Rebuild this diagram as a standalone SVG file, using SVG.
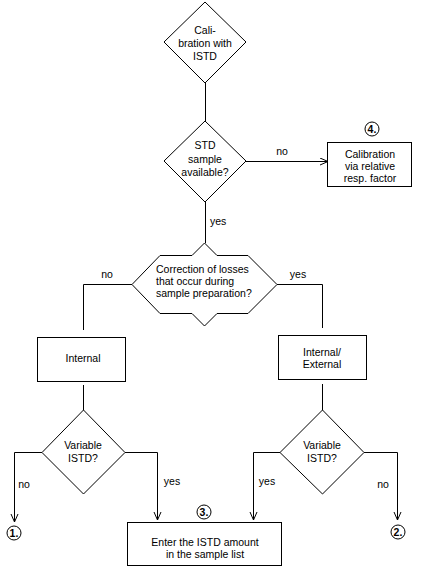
<svg xmlns="http://www.w3.org/2000/svg" width="422" height="570" viewBox="0 0 422 570">
<defs>
<marker id="arr" markerWidth="10" markerHeight="10" refX="8" refY="4" orient="auto" markerUnits="userSpaceOnUse">
<path d="M0,0.5 L8,4 L0,7.5" fill="none" stroke="#000" stroke-width="1"/>
</marker>
<style>
.s{fill:#fff;stroke:#000;stroke-width:1}
.c{fill:none;stroke:#000;stroke-width:1}
text{font-family:"Liberation Sans",Arial,sans-serif;font-size:10.5px;fill:#000}
.m{text-anchor:middle}
.n{font-weight:bold;font-size:10.5px;text-anchor:middle}
</style>
</defs>
<rect width="422" height="570" fill="#fff"/>
<g id="connectors">
<path class="c" d="M205.5,83 V121"/>
<path class="c" d="M246,161.5 H328" marker-end="url(#arr)"/>
<path class="c" d="M205.5,202 V243"/>
<path class="c" d="M132,284.5 H83.5 V330"/>
<path class="c" d="M277,284.5 H322.5 V328"/>
<path class="c" d="M83.5,385 V410"/>
<path class="c" d="M322.5,384 V410"/>
<path class="c" d="M42,452.5 H14.5 V522" marker-end="url(#arr)"/>
<path class="c" d="M125,452.5 H157.5 V520" marker-end="url(#arr)"/>
<path class="c" d="M280,452.5 H253.5 V520" marker-end="url(#arr)"/>
<path class="c" d="M364,452.5 H397.5 V520" marker-end="url(#arr)"/>
<text x="282" y="155" class="m">no</text>
<text x="210" y="225">yes</text>
<text x="107" y="278" class="m">no</text>
<text x="298" y="278" class="m">yes</text>
<text x="24" y="488" class="m">no</text>
<text x="172" y="485" class="m">yes</text>
<text x="267" y="485" class="m">yes</text>
<text x="383" y="488" class="m">no</text>
</g>
<g id="start">
<polygon class="s" points="205,2 246,42 205,83 164,42"/>
<text x="205" y="34" class="m">Cali-</text>
<text x="205" y="47" class="m">bration with</text>
<text x="205" y="60" class="m">ISTD</text>
</g>
<g id="std">
<polygon class="s" points="205,121 246,161 205,202 164,161"/>
<text x="205" y="149" class="m">STD</text>
<text x="205" y="163" class="m">sample</text>
<text x="205" y="176" class="m">available?</text>
</g>
<g id="relative">
<rect class="s" x="327.5" y="142.5" width="84" height="44"/>
<text x="370" y="158" class="m">Calibration</text>
<text x="370" y="170" class="m">via relative</text>
<text x="370" y="182" class="m">resp. factor</text>
<circle class="c" cx="372" cy="129" r="7"/>
<text x="372" y="133" class="n">4.</text>
</g>
<g id="correction">
<polygon class="s" points="204.5,243 192,255.5 160,255.5 132,284.5 160,313.5 192,313.5 204.5,326 217,313.5 248,313.5 277,284.5 248,255.5 217,255.5"/>
<text x="156" y="273">Correction of losses</text>
<text x="156" y="285">that occur during</text>
<text x="156" y="297">sample preparation?</text>
</g>
<g id="internal">
<rect class="s" x="37.5" y="337.5" width="88" height="44"/>
<text x="83" y="362" class="m">Internal</text>
</g>
<g id="intext">
<rect class="s" x="278.5" y="335.5" width="88" height="44"/>
<text x="322" y="356" class="m">Internal/</text>
<text x="322" y="368" class="m">External</text>
</g>
<g id="var1">
<polygon class="s" points="83.5,410 125,452.5 83.5,494 42,452.5"/>
<text x="83" y="449" class="m">Variable</text>
<text x="83" y="462" class="m">ISTD?</text>
</g>
<g id="var2">
<polygon class="s" points="322.5,410 364,452.5 322.5,494 280,452.5"/>
<text x="322" y="449" class="m">Variable</text>
<text x="322" y="462" class="m">ISTD?</text>
</g>
<g id="enter">
<rect class="s" x="127.5" y="522.5" width="154" height="43"/>
<text x="205" y="546" class="m">Enter the ISTD amount</text>
<text x="205" y="558" class="m">in the sample list</text>
<circle class="c" cx="204" cy="512" r="7"/>
<text x="204" y="516" class="n">3.</text>
</g>
<g id="out1">
<circle class="c" cx="14" cy="533" r="7"/>
<text x="14" y="537" class="n">1.</text>
</g>
<g id="out2">
<circle class="c" cx="398" cy="532" r="7"/>
<text x="398" y="536" class="n">2.</text>
</g>
</svg>
